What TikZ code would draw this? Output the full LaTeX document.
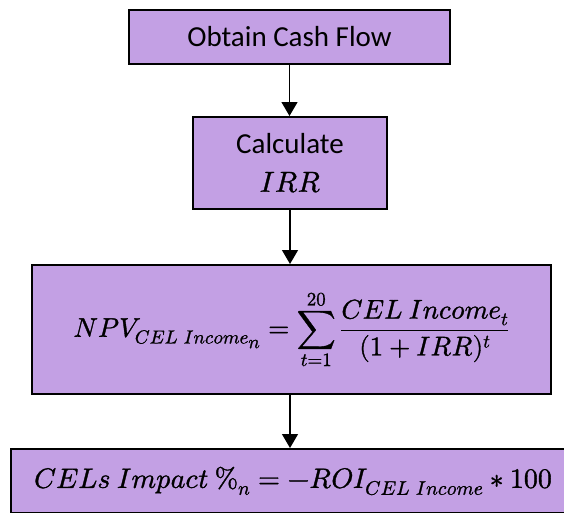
\documentclass[tikz,border=0pt]{standalone}
\usepackage{amsmath}
\usepackage{fontspec}
\usepackage{unicode-math}
\setmainfont{Carlito}
\setmathfont{Latin Modern Math}[FakeBold=1.2]
\usetikzlibrary{arrows.meta}
\definecolor{boxfill}{RGB}{195,160,228}
\begin{document}
\begin{tikzpicture}[x=1pt,y=-1pt,
  flowbox/.style={draw=black, line width=2pt, fill=boxfill, inner sep=0pt, align=center},
  flowarrow/.style={line width=1.3pt, -{Triangle[width=16pt,length=14pt]}}]
\useasboundingbox (0,0) rectangle (564,512);
% process boxes, top to bottom
\node[flowbox, minimum width=321pt, minimum height=54pt,
  font=\fontsize{29}{35}\selectfont] (cash) at (289.5,37) {Obtain Cash Flow};
\node[flowbox, minimum width=194pt, minimum height=92pt,
  font=\fontsize{29}{38}\selectfont] (irr) at (290,163)
  {Calculate\\$IRR$};
\node[flowbox, minimum width=519pt, minimum height=129pt,
  font=\fontsize{27}{32}\selectfont] (npv) at (291.5,329.5)
  {$\displaystyle NPV_{CEL\ Income_{\scriptstyle n}}=\sum_{t=1}^{20}\frac{CEL\ Income_t}{(1+IRR)^t}$};
\node[flowbox, minimum width=564pt, minimum height=64pt,
  font=\fontsize{28}{32}\selectfont] (roi) at (293,481)
  {$CELs\ Impact\ \%_n=-ROI_{CEL\ Income}\ast 100$};
% connectors
\draw[flowarrow] (cash.south) -- (cash.south |- irr.north);
\draw[flowarrow] (irr.south) -- (irr.south |- npv.north);
\draw[flowarrow] (npv.south -| irr.south) -- (irr.south |- roi.north);
\end{tikzpicture}
\end{document}
